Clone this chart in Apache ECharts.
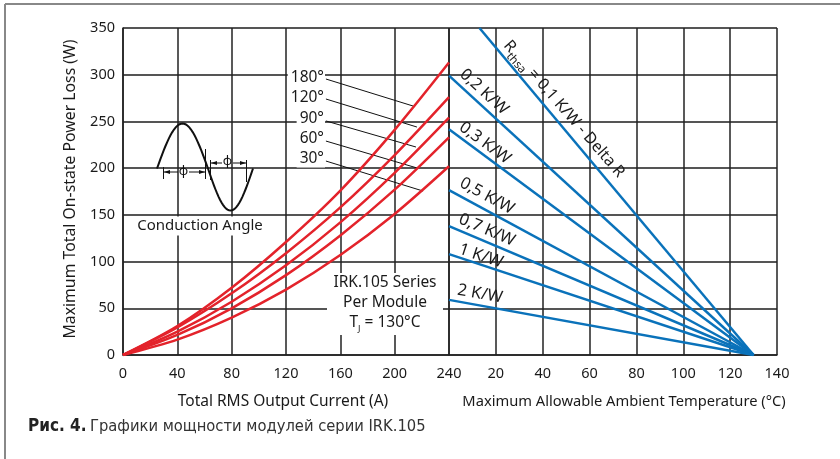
<!DOCTYPE html>
<html><head><meta charset="utf-8">
<script src="https://cdn.jsdelivr.net/npm/echarts@6/dist/echarts.min.js"></script>
<style>html,body{margin:0;padding:0;background:#fff}#c{width:840px;height:459px}</style>
</head><body><div id="c"></div>
<script>
// ---- data ----
const currentPts = [0, 40, 80, 120, 160, 200, 240];
const angleNames = ['180°', '120°', '90°', '60°', '30°'];
const loss180 = [0, 31, 72, 121, 176, 241, 313];
const loss120 = [0, 29.5, 66, 109, 158, 214, 276];
const loss90  = [0, 25, 57, 96, 142, 195, 254];
const loss60  = [0, 21.5, 50, 85.5, 128, 177, 233];
const loss30  = [0, 16.5, 40, 70, 107, 151, 202];
const currentTicks = [0, 40, 80, 120, 160, 200, 240];
const tempTicks = [0, 20, 40, 60, 80, 100, 120, 140];
const powerTicks = [0, 50, 100, 150, 200, 250, 300, 350];
const rthNames = ['0,2 K/W', '0,3 K/W', '0,5 K/W', '0,7 K/W', '1 K/W', '2 K/W'];
const powerAtZeroTemp = [299, 241.5, 176.5, 138, 108, 59];
const tempAtZeroPower = 130;
const rth01Top = [13, 350]; // 0,1 K/W line enters at top of chart
// leader lines for angle labels: [startCurrent, startPower, endCurrent, endPower]
const leaderLines = [
  [149.4, 295.4, 213.5, 266.5],
  [149.4, 274.0, 216.4, 244.0],
  [149.4, 250.5, 215.7, 222.6],
  [149.4, 229.0, 216.4, 200.2],
  [149.4, 207.6, 220.9, 175.5]
];

const lossSets = [loss180, loss120, loss90, loss60, loss30];
const FONT = "'Noto Sans', 'DejaVu Sans', sans-serif";
const CAPFONT = '"Liberation Sans Narrow", "DejaVu Sans Condensed", sans-serif';
const RED = '#e3232b', BLUE = '#0a72ba';

const chart = echarts.init(document.getElementById('c'), null, {renderer: 'canvas'});

const series = [];
lossSets.forEach((arr, i) => {
  series.push({
    name: angleNames[i], type: 'line', xAxisIndex: 0, yAxisIndex: 0,
    smooth: 0.3, showSymbol: false, silent: true,
    lineStyle: {color: RED, width: 2.5},
    data: currentPts.map((c, k) => [c, arr[k]])
  });
});
series.push({
  type: 'line', xAxisIndex: 1, yAxisIndex: 1, showSymbol: false, silent: true,
  lineStyle: {color: BLUE, width: 2.5},
  data: [rth01Top, [tempAtZeroPower, 0]]
});
powerAtZeroTemp.forEach((p, i) => {
  series.push({
    name: rthNames[i], type: 'line', xAxisIndex: 1, yAxisIndex: 1, showSymbol: false, silent: true,
    lineStyle: {color: BLUE, width: 2.5},
    data: [[0, p], [tempAtZeroPower, 0]]
  });
});
leaderLines.forEach(l => {
  series.push({
    type: 'line', xAxisIndex: 0, yAxisIndex: 0, showSymbol: false, silent: true, z: 1,
    lineStyle: {color: '#111', width: 1},
    data: [[l[0], l[1]], [l[2], l[3]]]
  });
});

const axisLabel = {color: '#1a1a1a', fontSize: 14.5, fontFamily: FONT};
const vSplit = {show: true, lineStyle: {color: '#222', width: 1.5}};
const hSplit = {show: true, lineStyle: {color: '#555', width: 2}};

// graphic decorations
const g = [];
g.push({type: 'line', shape: {x1: 5, y1: 4, x2: 840, y2: 4}, style: {stroke: '#888', lineWidth: 2}});
g.push({type: 'line', shape: {x1: 5, y1: 4, x2: 5, y2: 459}, style: {stroke: '#888', lineWidth: 2}});

const angleY = [78, 98, 118.5, 138.5, 158.5];
angleNames.forEach((t, i) => {
  g.push({type: 'text', x: 325, y: angleY[i], z: 10, style: {text: t, align: 'right', verticalAlign: 'middle',
    font: '15.5px ' + FONT, fill: '#1a1a1a', backgroundColor: '#fff', padding: [1, 1, 1, 3]}});
});

// IRK box
g.push({type: 'rect', shape: {x: 327, y: 273, width: 116, height: 62}, style: {fill: '#fff'}, z: 10});
g.push({type: 'text', x: 385, y: 283, z: 11, style: {text: 'IRK.105 Series', align: 'center', verticalAlign: 'middle', font: '15.5px ' + FONT, fill: '#1a1a1a'}});
g.push({type: 'text', x: 385, y: 303, z: 11, style: {text: 'Per Module', align: 'center', verticalAlign: 'middle', font: '15.5px ' + FONT, fill: '#1a1a1a'}});
g.push({type: 'text', x: 385, y: 323, z: 11, style: {text: '{a|T}{s|J}{a| = 130°C}', align: 'center', verticalAlign: 'middle',
  rich: {a: {font: '15.5px ' + FONT, fill: '#1a1a1a', lineHeight: 22}, s: {font: '9px ' + FONT, fill: '#1a1a1a', verticalAlign: 'bottom', lineHeight: 12}}}});

// blue labels
const rthLabelPos = [[484, 92, 42.4], [485, 143, 36.4], [487, 196, 28.3], [487, 230, 22.9], [481, 256, 18.3], [480, 294, 10.2]];
rthNames.forEach((t, i) => {
  const p = rthLabelPos[i];
  g.push({type: 'text', x: p[0], y: p[1], rotation: -p[2] * Math.PI / 180, z: 10,
    style: {text: t, align: 'center', verticalAlign: 'middle', font: '16.5px ' + FONT, fill: '#1a1a1a'}});
});
g.push({type: 'text', x: 564, y: 109, rotation: -49 * Math.PI / 180, z: 10,
  style: {text: '{a|R}{s|thsa}{a| = 0,1 K/W - Delta R}', align: 'center', verticalAlign: 'middle',
    rich: {a: {font: '16px ' + FONT, fill: '#1a1a1a', lineHeight: 24}, s: {font: '11.5px ' + FONT, fill: '#1a1a1a', verticalAlign: 'bottom', lineHeight: 12}}}});

// conduction angle icon
const pts = [];
for (let k = 0; k <= 30; k++) { const x = 157 + 51 * k / 30; pts.push([x, 168.5 - 45 * Math.sin(Math.PI * k / 30)]); }
for (let k = 1; k <= 30; k++) { const x = 208 + 45 * k / 30; pts.push([x, 168.5 + 42 * Math.sin(Math.PI * k / 30)]); }
g.push({type: 'polyline', shape: {points: pts}, style: {stroke: '#111', lineWidth: 2, fill: null}, z: 10});
const thin = {stroke: '#111', lineWidth: 1};
g.push({type: 'line', shape: {x1: 163.5, y1: 167, x2: 163.5, y2: 179}, style: thin, z: 10});
g.push({type: 'line', shape: {x1: 205.5, y1: 149, x2: 205.5, y2: 179}, style: thin, z: 10});
g.push({type: 'line', shape: {x1: 164, y1: 172, x2: 178, y2: 172}, style: thin, z: 10});
g.push({type: 'line', shape: {x1: 189, y1: 172, x2: 205, y2: 172}, style: thin, z: 10});
g.push({type: 'polygon', shape: {points: [[164, 172], [170, 170], [170, 174]]}, style: {fill: '#111'}, z: 10});
g.push({type: 'polygon', shape: {points: [[205, 172], [199, 170], [199, 174]]}, style: {fill: '#111'}, z: 10});
g.push({type: 'text', x: 183.5, y: 171, z: 10, style: {text: 'φ', align: 'center', verticalAlign: 'middle', font: '13px ' + FONT, fill: '#111'}});
g.push({type: 'line', shape: {x1: 210.5, y1: 160, x2: 210.5, y2: 180}, style: thin, z: 10});
g.push({type: 'line', shape: {x1: 246.5, y1: 160, x2: 246.5, y2: 182}, style: thin, z: 10});
g.push({type: 'line', shape: {x1: 211, y1: 163, x2: 222, y2: 163}, style: thin, z: 10});
g.push({type: 'line', shape: {x1: 233, y1: 163, x2: 246, y2: 163}, style: thin, z: 10});
g.push({type: 'polygon', shape: {points: [[211, 163], [217, 161], [217, 165]]}, style: {fill: '#111'}, z: 10});
g.push({type: 'polygon', shape: {points: [[246, 163], [240, 161], [240, 165]]}, style: {fill: '#111'}, z: 10});
g.push({type: 'text', x: 227.5, y: 161, z: 10, style: {text: 'φ', align: 'center', verticalAlign: 'middle', font: '13px ' + FONT, fill: '#111'}});
g.push({type: 'text', x: 200, y: 226, z: 10, style: {text: 'Conduction Angle', align: 'center', verticalAlign: 'middle',
  font: '15px ' + FONT, fill: '#1a1a1a', backgroundColor: '#fff', padding: [2, 3, 2, 3]}});

// axis names
g.push({type: 'text', x: 283, y: 402, style: {text: 'Total RMS Output Current (A)', align: 'center', verticalAlign: 'middle', font: '15.5px ' + FONT, fill: '#1a1a1a'}});
g.push({type: 'text', x: 624, y: 402, style: {text: 'Maximum Allowable Ambient Temperature (°C)', align: 'center', verticalAlign: 'middle', font: '14.7px ' + FONT, fill: '#1a1a1a'}});
g.push({type: 'text', x: 70, y: 189, rotation: Math.PI / 2, style: {text: 'Maximum Total On-state Power Loss (W)', align: 'center', verticalAlign: 'middle', font: '15.8px ' + FONT, fill: '#1a1a1a'}});

// caption
g.push({type: 'text', x: 28, y: 427, style: {text: '{b|Рис. 4.} {r|Графики мощности модулей серии IRK.105}', verticalAlign: 'middle',
  rich: {b: {font: 'bold 17px ' + CAPFONT, fill: '#222'},
         r: {font: '16.4px ' + CAPFONT, fill: '#333'}}}});

chart.setOption({
  animation: false,
  backgroundColor: '#fff',
  grid: [
    {left: 123, top: 28, width: 326, height: 327},
    {left: 449, top: 28, width: 328, height: 327}
  ],
  xAxis: [
    {gridIndex: 0, type: 'value', min: currentTicks[0], max: currentTicks[currentTicks.length - 1], interval: 40,
     axisLine: {show: true, onZero: false, lineStyle: {color: '#222', width: 1.5}}, axisTick: {show: false},
     axisLabel: Object.assign({margin: 11}, axisLabel), splitLine: vSplit},
    {gridIndex: 1, type: 'value', min: tempTicks[0], max: tempTicks[tempTicks.length - 1], interval: 20,
     axisLine: {show: true, onZero: false, lineStyle: {color: '#222', width: 1.5}}, axisTick: {show: false},
     axisLabel: Object.assign({margin: 11, formatter: v => v === 0 ? '' : String(v)}, axisLabel), splitLine: vSplit}
  ],
  yAxis: [
    {gridIndex: 0, type: 'value', min: powerTicks[0], max: powerTicks[powerTicks.length - 1], interval: 50,
     axisLine: {show: true, onZero: false, lineStyle: {color: '#222', width: 1.5}}, axisTick: {show: false},
     axisLabel: Object.assign({margin: 8}, axisLabel), splitLine: hSplit},
    {gridIndex: 1, type: 'value', min: powerTicks[0], max: powerTicks[powerTicks.length - 1], interval: 50,
     axisLine: {show: false}, axisTick: {show: false}, axisLabel: {show: false}, splitLine: hSplit}
  ],
  series: series,
  graphic: g
});
</script>
</body></html>
